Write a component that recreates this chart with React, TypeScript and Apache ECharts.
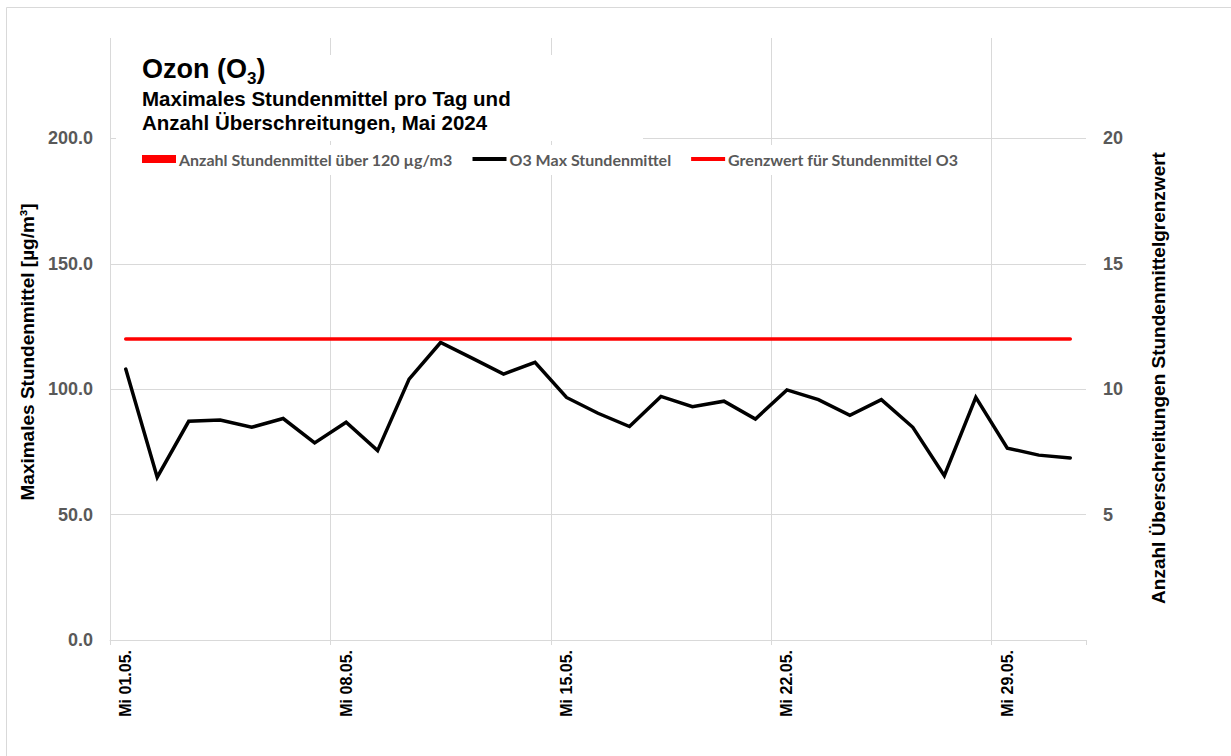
import React, { useEffect, useRef } from 'react';
import * as echarts from 'echarts';

const days = [
  'Mi 01.05.', 'Do 02.05.', 'Fr 03.05.', 'Sa 04.05.', 'So 05.05.', 'Mo 06.05.', 'Di 07.05.',
  'Mi 08.05.', 'Do 09.05.', 'Fr 10.05.', 'Sa 11.05.', 'So 12.05.', 'Mo 13.05.', 'Di 14.05.',
  'Mi 15.05.', 'Do 16.05.', 'Fr 17.05.', 'Sa 18.05.', 'So 19.05.', 'Mo 20.05.', 'Di 21.05.',
  'Mi 22.05.', 'Do 23.05.', 'Fr 24.05.', 'Sa 25.05.', 'So 26.05.', 'Mo 27.05.', 'Di 28.05.',
  'Mi 29.05.', 'Do 30.05.', 'Fr 31.05.',
];

const o3Max = [
  108.0, 64.9, 87.2, 87.7, 84.8, 88.3, 78.6,
  86.8, 75.5, 104.0, 118.6, 112.4, 106.0, 110.7,
  96.7, 90.4, 85.1, 97.1, 93.0, 95.2, 88.1,
  99.7, 95.8, 89.6, 95.8, 84.8, 65.5, 96.7,
  76.5, 73.7, 72.6,
];

const limitValues = [
  120, 120, 120, 120, 120, 120, 120,
  120, 120, 120, 120, 120, 120, 120,
  120, 120, 120, 120, 120, 120, 120,
  120, 120, 120, 120, 120, 120, 120,
  120, 120, 120,
];

const exceedances = [
  0, 0, 0, 0, 0, 0, 0,
  0, 0, 0, 0, 0, 0, 0,
  0, 0, 0, 0, 0, 0, 0,
  0, 0, 0, 0, 0, 0, 0,
  0, 0, 0,
];

const leftTicks = [0, 50, 100, 150, 200];
const rightTicks = [5, 10, 15, 20];

const FONT = '"Liberation Sans", Arial, sans-serif';
const GRID = '#d9d9d9';
const LINE_ICON = 'path://M0,0H36V4H0Z';

export default function App() {
  const ref = useRef<HTMLDivElement>(null);

  useEffect(() => {
    if (!ref.current) return;
    const chart = echarts.init(ref.current, undefined, { renderer: 'svg' });
    const option: any = {
      animation: false,
      backgroundColor: '#fff',
      grid: { left: 110, right: 145, top: 38, bottom: 116, containLabel: false },
      legend: {
        top: 145,
        left: 132,
        itemGap: 20,
        itemWidth: 34,
        itemHeight: 8,
        padding: [6, 10, 8, 10],
        backgroundColor: '#fff',
        textStyle: { fontFamily: 'Lato, sans-serif', fontWeight: 'bold', fontSize: 16, color: '#595959', padding: [0, 0, 0, -2] },
        data: [
          { name: 'Anzahl Stundenmittel über 120 µg/m3', icon: 'rect' },
          { name: 'O3 Max Stundenmittel', icon: LINE_ICON },
          { name: 'Grenzwert für Stundenmittel O3', icon: LINE_ICON },
        ],
      },
      xAxis: {
        type: 'category',
        data: days,
        boundaryGap: true,
        axisLine: { show: true, lineStyle: { color: GRID, width: 1 } },
        axisTick: { show: true, interval: 6, length: 5, lineStyle: { color: GRID } },
        axisLabel: {
          interval: 6,
          rotate: 90,
          margin: 10,
          fontFamily: FONT,
          fontWeight: 'bold',
          fontSize: 16,
          color: '#000',
        },
        splitLine: {
          show: true,
          interval: 6,
          lineStyle: { color: [GRID, GRID, GRID, GRID, GRID, 'rgba(0,0,0,0)'], width: 1 },
        },
      },
      yAxis: [
        {
          type: 'value',
          min: 0,
          max: 240,
          interval: 50,
          position: 'left',
          axisLine: { show: false },
          axisTick: { show: false },
          axisLabel: {
            margin: 17,
            fontFamily: FONT,
            fontWeight: 'bold',
            fontSize: 18,
            color: '#595959',
            formatter: (v: number) => (leftTicks.indexOf(v) >= 0 ? v.toFixed(1) : ''),
          },
          splitLine: {
            show: true,
            lineStyle: { color: [GRID, GRID, GRID, GRID, GRID, 'rgba(0,0,0,0)'], width: 1 },
          },
          name: 'Maximales Stundenmittel [µg/m³]',
          nameLocation: 'middle',
          nameGap: 68,
          nameTextStyle: { fontFamily: FONT, fontWeight: 'bold', fontSize: 19, color: '#000', padding: [0, 26, 0, 0] },
        },
        {
          type: 'value',
          min: 0,
          max: 24,
          interval: 5,
          position: 'right',
          axisLine: { show: false },
          axisTick: { show: false },
          splitLine: { show: false },
          axisLabel: {
            margin: 17,
            fontFamily: FONT,
            fontWeight: 'bold',
            fontSize: 18,
            color: '#595959',
            formatter: (v: number) => (rightTicks.indexOf(v) >= 0 ? String(v) : ''),
          },
          name: 'Anzahl Überschreitungen Stundenmittelgrenzwert',
          nameLocation: 'middle',
          nameGap: 63,
          nameTextStyle: { fontFamily: FONT, fontWeight: 'bold', fontSize: 19, color: '#000', padding: [0, 78, 0, 0] },
        },
      ],
      series: [
        {
          name: 'Anzahl Stundenmittel über 120 µg/m3',
          type: 'bar',
          yAxisIndex: 1,
          data: exceedances,
          itemStyle: { color: '#ff0000' },
          barWidth: '60%',
        },
        {
          name: 'O3 Max Stundenmittel',
          type: 'line',
          yAxisIndex: 0,
          data: o3Max,
          showSymbol: false,
          symbol: 'none',
          lineStyle: { color: '#000', width: 3.5, cap: 'round', join: 'miter' },
          itemStyle: { color: '#000' },
        },
        {
          name: 'Grenzwert für Stundenmittel O3',
          type: 'line',
          yAxisIndex: 0,
          data: limitValues,
          showSymbol: false,
          symbol: 'none',
          lineStyle: { color: '#ff0000', width: 3.5, cap: 'round' },
          itemStyle: { color: '#ff0000' },
        },
      ],
      graphic: [
        {
          type: 'rect',
          z: 100,
          shape: { x: 6.5, y: 7.5, width: 1240, height: 770 },
          style: { fill: 'none', stroke: GRID, lineWidth: 1 },
          silent: true,
        },
        {
          type: 'rect',
          z: 100,
          shape: { x: 116, y: 55, width: 527, height: 86 },
          style: { fill: '#fff' },
          silent: true,
        },
        {
          type: 'text',
          z: 101,
          x: 142,
          y: 55,
          style: {
            text: '{a|Ozon (O}{s|3}{a|)}',
            rich: {
              a: { fontFamily: FONT, fontWeight: 'bold', fontSize: 27, lineHeight: 32, fill: '#000', verticalAlign: 'top' },
              s: { fontFamily: FONT, fontWeight: 'bold', fontSize: 17, lineHeight: 14, fill: '#000', verticalAlign: 'bottom' },
            },
          },
        },
        {
          type: 'text',
          z: 101,
          x: 142,
          y: 86,
          style: {
            text: 'Maximales Stundenmittel pro Tag und\nAnzahl Überschreitungen, Mai 2024',
            fontFamily: FONT,
            fontWeight: 'bold',
            fontSize: 20.5,
            lineHeight: 24,
            fill: '#000',
          },
        },
      ],
    };
    chart.setOption(option);
    return () => chart.dispose();
  }, []);

  return (
    <div
      ref={ref}
      style={{ position: 'fixed', left: 0, top: 0, width: 1231, height: 756, background: '#fff' }}
    />
  );
}
